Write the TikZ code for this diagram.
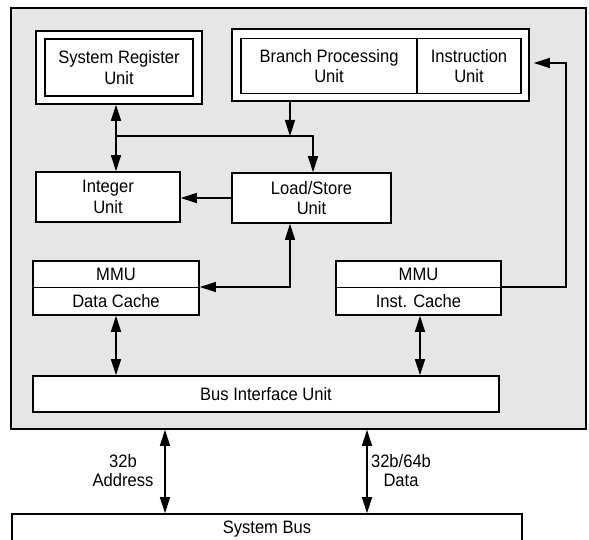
\documentclass[tikz,border=0pt]{standalone}
\usepackage{fontspec}
\setmainfont[FakeStretch=0.92]{Liberation Sans}
\usetikzlibrary{arrows.meta}
\definecolor{panel}{HTML}{E6E6E6}
\tikzset{
  blk/.style={draw, line width=1.6pt, fill=white, inner sep=0pt, align=center,
    font=\fontsize{18}{20.7}\selectfont},
  txt/.style={inner sep=0pt, align=center, font=\fontsize{18}{20.7}\selectfont},
  lbl/.style={inner sep=0pt, align=center, font=\fontsize{18}{19}\selectfont},
  conn/.style={line width=1.6pt},
  tip/.style={-{Triangle[length=16pt,width=10pt]}},
  dtip/.style={{Triangle[length=16pt,width=10pt]}-{Triangle[length=16pt,width=10pt]}},
}
\begin{document}
\begin{tikzpicture}[x=1pt,y=-1pt]
\useasboundingbox (0,0) rectangle (589,540);
\clip (0,0) rectangle (589,540);
% chip panel
\node[draw, line width=1.6pt, fill=panel, minimum width=575pt, minimum height=421pt, inner sep=0pt] (chip) at (298.5,218.5) {};
% system register unit
\node[blk, minimum width=166pt, minimum height=73pt] (sro) at (119,67.5) {};
\node[blk, minimum width=148pt, minimum height=57pt] (sru) at (119,67.5) {System Register\\Unit};
% branch / instruction
\node[blk, minimum width=297pt, minimum height=72pt] (bo) at (380.5,65) {};
\node[blk, minimum width=176pt, minimum height=55pt] (bpu) at (329,66) {Branch Processing\\Unit};
\node[blk, minimum width=104pt, minimum height=55pt] (iu) at (469,66) {Instruction\\Unit};
% integer, load/store
\node[blk, minimum width=144pt, minimum height=50pt] (int) at (108,197) {Integer\\Unit};
\node[blk, minimum width=159pt, minimum height=50pt] (ls) at (311.5,198) {Load/Store\\Unit};
% data cache
\node[blk, minimum width=166pt, minimum height=54pt] (dc) at (116,288) {};
\node[txt] (dmmu) at (116,274.5) {MMU};
\node[txt] (dct) at (116,301) {Data Cache};
\coordinate (ddiv) at (116,287);
\draw[line width=0.9pt] (dc.west |- ddiv) -- (dc.east |- ddiv);
% inst cache
\node[blk, minimum width=165pt, minimum height=54pt] (ic) at (418.5,288) {};
\node[txt] (immu) at (418.5,274.5) {MMU};
\node[txt] (ict) at (418.5,301) {Inst. Cache};
\coordinate (idiv) at (418.5,287);
\draw[line width=0.9pt] (ic.west |- idiv) -- (ic.east |- idiv);
% bus interface unit
\node[blk, minimum width=466pt, minimum height=36pt] (biu) at (266,394) {Bus Interface Unit};
% system bus
\node[blk, minimum width=510pt, minimum height=31pt] (sbus) at (267,529.5) {System Bus};
% connectors
\coordinate (jl) at (116,136);
\coordinate (jm) at (290,136);
\coordinate (jr) at (313,136);
\draw[conn, dtip] (sro.south -| jl) -- (int.north -| jl);
\draw[conn, tip] (bo.south -| jm) -- (jm);
\draw[conn, tip] (jl) -- (jr) -- (ls.north -| jr);
\draw[conn, tip] (ls.west) -- (int.east |- ls.west);
\coordinate (k) at (290,287);
\draw[conn, dtip] (ls.south -| k) -- (k) -- (dc.east |- k);
\coordinate (m1) at (566,287);
\coordinate (m2) at (566,63);
\draw[conn, tip, shorten >=4pt] (ic.east |- m1) -- (m1) -- (m2) -- (bo.east |- m2);
\draw[conn, dtip] (dc.south) -- (biu.north -| dc.south);
\coordinate (ix) at (420,0);
\draw[conn, dtip] (ic.south -| ix) -- (biu.north -| ix);
\coordinate (ax) at (165,0);
\coordinate (dx) at (367,0);
\draw[conn, dtip] (chip.south -| ax) -- (sbus.north -| ax);
\draw[conn, dtip] (chip.south -| dx) -- (sbus.north -| dx);
\node[lbl] (addr) at (123,471) {32b\\Address};
\node[lbl] (data) at (401,471) {32b/64b\\Data};
\end{tikzpicture}
\end{document}
